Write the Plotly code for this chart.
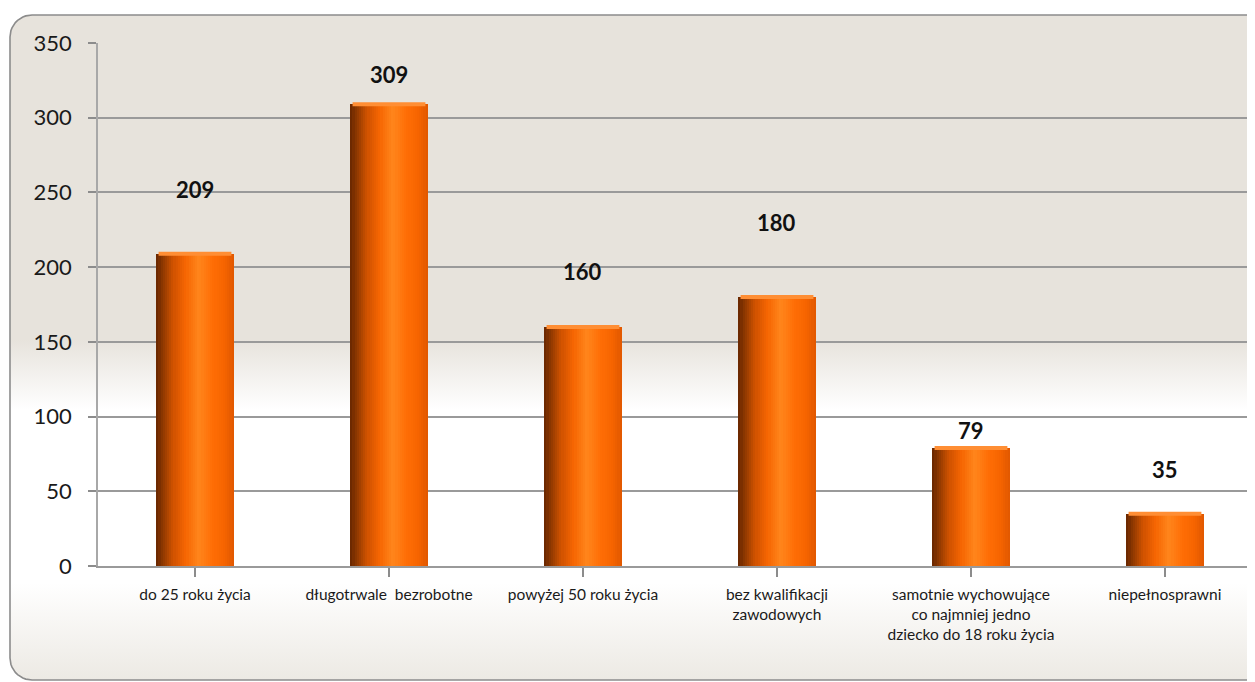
import numpy as np
import plotly.graph_objects as go

categories = [
    "do 25 roku życia",
    "długotrwale  bezrobotne",
    "powyżej 50 roku życia",
    "bez kwalifikacji<br>zawodowych",
    "samotnie wychowujące<br>co najmniej jedno<br>dziecko do 18 roku życia",
    "niepełnosprawni",
]
values = [209, 309, 160, 180, 79, 35]
y_ticks = [0, 50, 100, 150, 200, 250, 300, 350]

# label pixel offsets above bar tops (style/positioning)
label_shift = [64, 30, 55, 75, 17, 44]

OFF = 8  # page body margin
W, H = 1255 - OFF, 682 - OFF
def px(v):
    return v - OFF

fig = go.Figure()

# ---- background frame with vertical gradient (decoration on hidden axes x/y, drawn first) ----
x0, x1, ytop, ybot, r = px(10), 1330, H - px(15), H - px(680), 22
def arc(cx, cy, a0, a1):
    t = np.linspace(a0, a1, 12)
    return cx + r * np.cos(t), cy + r * np.sin(t)
xs, ys = [], []
for cx, cy, a0, a1 in [(x1 - r, ytop - r, 0, np.pi / 2), (x0 + r, ytop - r, np.pi / 2, np.pi),
                       (x0 + r, ybot + r, np.pi, 1.5 * np.pi), (x1 - r, ybot + r, 1.5 * np.pi, 2 * np.pi)]:
    ax, ay = arc(cx, cy, a0, a1)
    xs += list(ax); ys += list(ay)
xs.append(xs[0]); ys.append(ys[0])
beige = "#E7E3DC"
def frac(p):
    return (H - px(p)) / H
fig.add_trace(go.Scatter(
    x=xs, y=ys, xaxis="x", yaxis="y", mode="lines", fill="toself",
    line=dict(color="#8C8C8C", width=1.6),
    fillgradient=dict(type="vertical", start=0, stop=H,
                      colorscale=[[0, "#ECE9E3"], [frac(583), "#FFFFFF"], [frac(410), "#FFFFFF"],
                                  [frac(340), beige], [1, beige]]),
    hoverinfo="skip", showlegend=False))

# ---- cylinder-like bars built from many thin vertical slices ----
bar_w = 0.40
anchor_pos = [0.0, 0.08, 0.22, 0.38, 0.55, 0.72, 0.88, 1.0]
anchor_rgb = np.array([[0x66, 0x26, 0x00], [0x8E, 0x38, 0x00], [0xD0, 0x52, 0x00], [0xF6, 0x66, 0x02],
                       [0xFF, 0x86, 0x1C], [0xFF, 0x6E, 0x06], [0xF6, 0x64, 0x00], [0xE0, 0x58, 0x00]])
n = 36
t = (np.arange(n) + 0.5) / n
rgb = np.stack([np.interp(t, anchor_pos, anchor_rgb[:, k]) for k in range(3)], axis=1)
slice_colors = ["rgb(%d,%d,%d)" % tuple(c) for c in rgb.round().astype(int)]
sw = bar_w / n
xcat = list(range(len(categories)))
for i, c in enumerate(slice_colors):
    fig.add_trace(go.Bar(
        x=xcat, y=values, width=sw * 1.15, xaxis="x2", yaxis="y2",
        offset=-bar_w / 2 + i * sw, marker=dict(color=c, line=dict(width=0)),
        showlegend=False, hoverinfo="skip"))

# lighter cap on top of each bar
fig.add_trace(go.Scatter(
    x=xcat, y=values, mode="markers", xaxis="x2", yaxis="y2",
    marker=dict(symbol="line-ew", size=52, line=dict(color="#FF8E34", width=4)),
    showlegend=False, hoverinfo="skip"))

for i, v in enumerate(values):
    fig.add_annotation(x=i, y=v, xref="x2", yref="y2", text=f"<b>{v}</b>", showarrow=False,
                       yshift=label_shift[i],
                       font=dict(family="Lato, Open Sans, sans-serif", size=22, color="#111111"))

grid_col = "#9A9A9A"
fig.update_layout(
    width=W, height=H,
    margin=dict(l=0, r=0, t=0, b=0),
    paper_bgcolor="white", plot_bgcolor="rgba(0,0,0,0)",
    barmode="overlay", bargap=0,
    font=dict(family="Lato, Open Sans, sans-serif", color="#1A1A1A"),
    xaxis=dict(domain=[0, 1], range=[0, W], visible=False, fixedrange=True),
    yaxis=dict(domain=[0, 1], range=[0, H], visible=False, fixedrange=True),
    xaxis2=dict(domain=[px(98) / W, 1], range=[-0.5, 5.464], anchor="y2",
                tickmode="array", tickvals=xcat, ticktext=categories,
                tickson="boundaries", ticks="outside", ticklen=9, tickcolor="#8C8C8C", tickwidth=1.5,
                tickfont=dict(size=15.5, color="#1A1A1A"), showgrid=False, ticklabelstandoff=4,
                showline=True, linecolor=grid_col, linewidth=2, automargin=False, fixedrange=True),
    yaxis2=dict(domain=[(H - px(566)) / H, (H - px(43)) / H], range=[0, 350], anchor="x2",
                tickvals=y_ticks, ticks="outside", ticklen=8, tickcolor="#8C8C8C", tickwidth=1.5,
                tickfont=dict(size=22, color="#1A1A1A"), ticklabelstandoff=12,
                showgrid=True, gridcolor=grid_col, gridwidth=2,
                showline=True, linecolor="#A8A8A8", linewidth=1.5, zeroline=False,
                automargin=False, fixedrange=True),
)

fig.write_html("out.html")
